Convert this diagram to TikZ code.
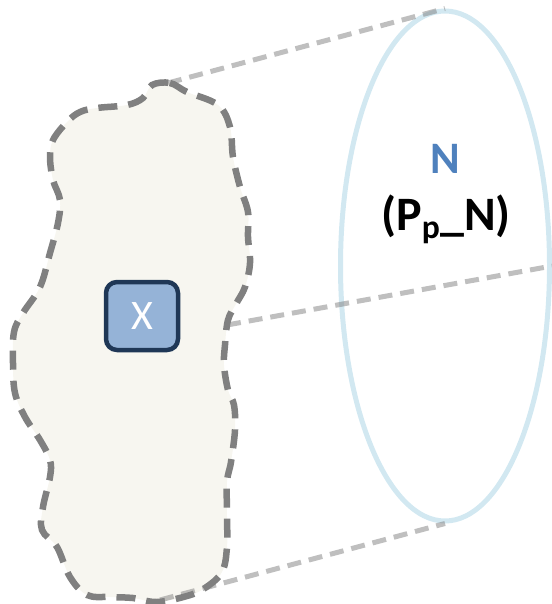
\documentclass[tikz,border=0pt]{standalone}
\usepackage{fontspec}
\setmainfont{Carlito}
\usepackage{xcolor}
\usetikzlibrary{shapes.geometric,positioning,calc}

\definecolor{blobgray}{RGB}{128,128,128}
\definecolor{blobfill}{RGB}{247,246,240}
\definecolor{linkgray}{RGB}{128,128,128}
\definecolor{ringblue}{RGB}{210,232,241}
\definecolor{boxfill}{RGB}{149,179,215}
\definecolor{boxdraw}{RGB}{31,55,86}
\definecolor{textblue}{RGB}{79,129,189}

\tikzset{
    region/.style={draw=blobgray, line width=6.5pt, dash pattern=on 19pt off 11pt, fill=blobfill},
    link/.style={draw=linkgray, draw opacity=0.5, line width=5pt, dash pattern=on 14pt off 8pt},
    ring/.style={ellipse, draw=ringblue, line width=5pt, minimum width=209pt, minimum height=510pt, inner sep=0pt},
    varbox/.style={draw=boxdraw, fill=boxfill, line width=4.5pt, rounded corners=11pt, minimum width=72pt, minimum height=68pt, inner sep=0pt}
}

\begin{document}
\begin{tikzpicture}[x=1pt, y=-1pt]
        \useasboundingbox (0,0) rectangle (551,604);
        % Region
        \draw[region] plot[smooth cycle, tension=0.6] coordinates {
            (152,85) (170,83) (187,92) (218,105) (230,127) (233,157) (240,187)
            (248,212) (248,237) (250,263) (245,287) (236,304) (228,320) (225,345)
            (224,365) (228,390) (234,405) (235,430) (231,462) (227,482) (227,517)
            (227,547) (222,572) (205,588) (187,596) (157,602) (133,598) (110,597)
            (87,595) (70,577) (57,547) (42,530) (43,507) (50,477) (50,460) (40,440)
            (25,417) (15,393) (13,363) (14,332) (23,313) (40,287) (50,253) (58,223)
            (60,200) (53,180) (50,157) (53,140) (67,122) (80,112) (97,108) (127,105)
            (143,98)};
        \coordinate (rtop) at (168,83);
        \coordinate (rmid) at (227,325);
        \coordinate (rbot) at (160,600);
        % Context
        \node[ring] (ctx) at (445,266) {};
        \node[anchor=base, text=textblue, font=\bfseries\fontsize{45}{52}\selectfont] (name) at (445,173) {N};
        \node[anchor=base, font=\bfseries\fontsize{48}{56}\selectfont] (proc) at (446,230) {(P\textsubscript{p}\_N)};
        % Links
        \draw[link] (rtop) -- (ctx.north);
        \draw[link] (rmid) -- (ctx.east);
        \draw[link] (rbot) -- (ctx.south);
        % Variable
        \node[varbox, text=white, font=\fontsize{42}{50}\selectfont] (var) at (142,316) {X};
    \end{tikzpicture}
\end{document}
